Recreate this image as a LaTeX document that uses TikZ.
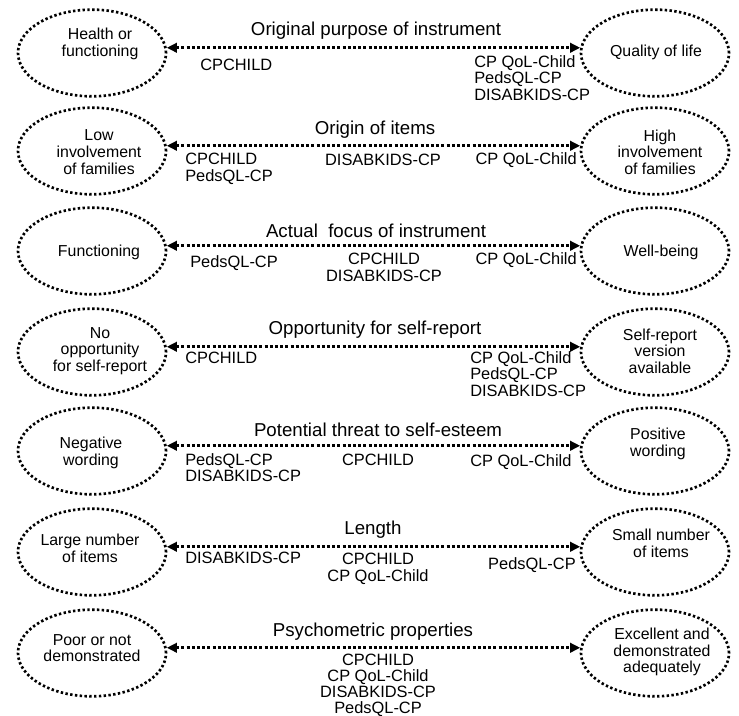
\documentclass[tikz,border=0pt]{standalone}
\usepackage{fontspec}
\setmainfont{Liberation Sans}
\usetikzlibrary{shapes.geometric,arrows.meta}
\begin{document}
\begin{tikzpicture}[x=0.75pt,y=-0.75pt,
  ell/.style={ellipse, draw, line width=2pt, dash pattern=on 1.8pt off 1.8pt,
    minimum width=111pt, minimum height=65pt, inner sep=0pt},
  etxt/.style={font=\fontsize{11.9pt}{12.5pt}\selectfont, align=center, inner sep=0pt},
  ttl/.style={font=\fontsize{14pt}{16pt}\selectfont, inner sep=0pt},
  lbl/.style={font=\fontsize{12.3pt}{12.6pt}\selectfont, inner sep=0pt},
  lblc/.style={lbl, align=center},
  lbll/.style={lbl, align=left},
  arr/.style={{Triangle[length=7.5pt,width=7pt]}-{Triangle[length=7.5pt,width=7pt]},
    line width=2.3pt, dash pattern=on 2.2pt off 1.7pt}]
\useasboundingbox (0,0) rectangle (739,716);

% Row 1
\node[ell] (L1) at (92,53) {};
\node[ell] (R1) at (655,53) {};
\node[etxt] (L1t) at (100,44) {Health or\\functioning};
\node[etxt] (R1t) at (656,52) {Quality of life};
\draw[arr] (L1.4) -- (R1.176);
\node[ttl] (T1) at (376,31) {Original purpose of instrument};
\node[lbl, anchor=west] (a1) at (200,65) {CPCHILD};
\node[lbll, anchor=north west] (b1) at (474,55) {CP QoL-Child\\PedsQL-CP\\DISABKIDS-CP};

% Row 2
\node[ell] (L2) at (92,151) {};
\node[ell] (R2) at (655,151) {};
\node[etxt] (L2t) at (99,152) {Low\\involvement\\of families};
\node[etxt] (R2t) at (660,152) {High\\involvement\\of families};
\draw[arr] (L2.4) -- (R2.176);
\node[ttl] (T2) at (375,130) {Origin of items};
\node[lbll, anchor=north west] (a2) at (185,153) {CPCHILD\\PedsQL-CP};
\node[lbl] (m2) at (383,160) {DISABKIDS-CP};
\node[lbl, anchor=east] (b2) at (577,160) {CP QoL-Child};

% Row 3
\node[ell] (L3) at (92,251) {};
\node[ell] (R3) at (655,251) {};
\node[etxt] (L3t) at (99,252) {Functioning};
\node[etxt] (R3t) at (661,252) {Well-being};
\draw[arr] (L3.4) -- (R3.176);
\node[ttl] (T3) at (376,231) {Actual\ \ focus of instrument};
\node[lbl, anchor=west] (a3) at (190,263) {PedsQL-CP};
\node[lblc, anchor=north] (m3) at (384,253) {CPCHILD\\DISABKIDS-CP};
\node[lbl, anchor=east] (b3) at (577,260) {CP QoL-Child};

% Row 4
\node[ell] (L4) at (92,352) {};
\node[ell] (R4) at (655,352) {};
\node[etxt] (L4t) at (100,351) {No\\opportunity\\for self-report};
\node[etxt] (R4t) at (660,351) {Self-report\\version\\available};
\draw[arr] (L4.4) -- (R4.176);
\node[ttl] (T4) at (375,330) {Opportunity for self-report};
\node[lbl, anchor=west] (a4) at (185,358) {CPCHILD};
\node[lbll, anchor=north west] (b4) at (470,351) {CP QoL-Child\\PedsQL-CP\\DISABKIDS-CP};

% Row 5
\node[ell] (L5) at (92,451) {};
\node[ell] (R5) at (655,451) {};
\node[etxt] (L5t) at (91,453) {Negative\\wording};
\node[etxt] (R5t) at (658,444) {Positive\\wording};
\draw[arr] (L5.4) -- (R5.176);
\node[ttl] (T5) at (378,430) {Potential threat to self-esteem};
\node[lbll, anchor=north west] (a5) at (185,453) {PedsQL-CP\\DISABKIDS-CP};
\node[lbl] (m5) at (378,460) {CPCHILD};
\node[lbl, anchor=west] (b5) at (470,462) {CP QoL-Child};

% Row 6
\node[ell] (L6) at (92,552) {};
\node[ell] (R6) at (655,552) {};
\node[etxt] (L6t) at (90,548) {Large number\\of items};
\node[etxt] (R6t) at (661,543) {Small number\\of items};
\draw[arr] (L6.4) -- (R6.176);
\node[ttl] (T6) at (373,530) {Length};
\node[lbl, anchor=west] (a6) at (185,558) {DISABKIDS-CP};
\node[lblc, anchor=north] (m6) at (378,553) {CPCHILD\\CP QoL-Child};
\node[lbl, anchor=east] (b6) at (576,565) {PedsQL-CP};

% Row 7
\node[ell] (L7) at (92,653) {};
\node[ell] (R7) at (655,653) {};
\node[etxt] (L7t) at (92,648) {Poor or not\\demonstrated};
\node[etxt] (R7t) at (662,652) {Excellent and\\demonstrated\\adequately};
\draw[arr] (L7.4) -- (R7.176);
\node[ttl] (T7) at (373,632) {Psychometric properties};
\node[lblc, anchor=north, font=\fontsize{12.3pt}{12pt}\selectfont] (m7) at (378,654) {CPCHILD\\CP QoL-Child\\DISABKIDS-CP\\PedsQL-CP};
\end{tikzpicture}
\end{document}
